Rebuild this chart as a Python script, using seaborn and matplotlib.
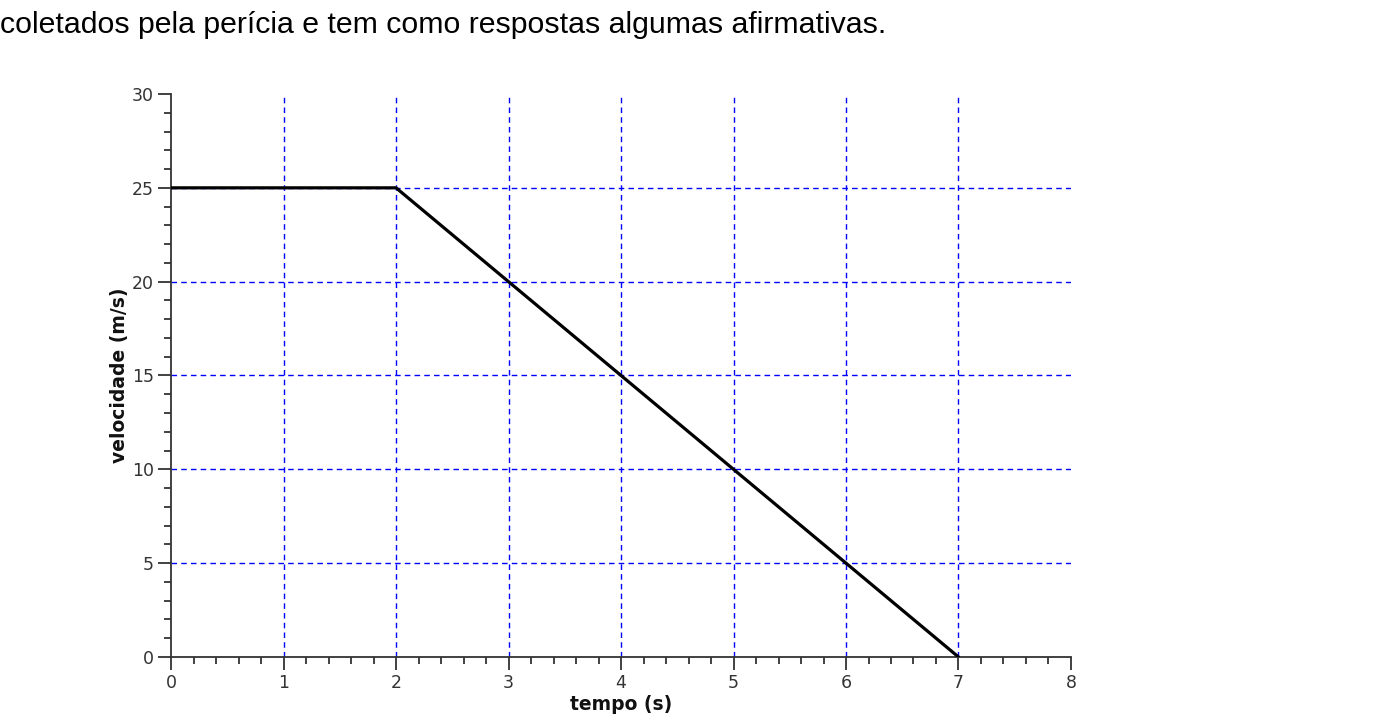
import matplotlib
matplotlib.use("Agg")
import matplotlib.pyplot as plt
import seaborn as sns
import pandas as pd
from matplotlib.ticker import MultipleLocator

# values
tempo = [0, 2, 7]
velocidade = [25, 25, 0]

grade_x = [1, 2, 3, 4, 5, 6, 7]
grade_y = [5, 10, 15, 20, 25]

texto_topo = "coletados pela perícia e tem como respostas algumas afirmativas."

df = pd.DataFrame({"tempo": tempo, "velocidade": velocidade})

sns.set_style("white")
plt.rcParams['font.family'] = ['DejaVu Sans']

fig = plt.figure(figsize=(13.75, 7.17), dpi=100)
ax = fig.add_axes([0.1244, 0.0837, 0.6545, 0.7852])

# dashed blue grid, only where the picture has it
for gx in grade_x:
    ax.axvline(gx, color="#0000ff", linestyle=(0, (4, 3)), linewidth=1.0, zorder=1)
for gy in grade_y:
    ax.axhline(gy, color="#0000ff", linestyle=(0, (4, 3)), linewidth=1.0, zorder=1)

sns.lineplot(data=df, x="tempo", y="velocidade", color="black", linewidth=2.3, ax=ax, zorder=3)

ax.set_xlim(0, 8)
ax.set_ylim(0, 30)
ax.xaxis.set_major_locator(MultipleLocator(1))
ax.xaxis.set_minor_locator(MultipleLocator(0.2))
ax.yaxis.set_major_locator(MultipleLocator(5))
ax.yaxis.set_minor_locator(MultipleLocator(1))

for s in ["top", "right"]:
    ax.spines[s].set_visible(False)
for s in ["left", "bottom"]:
    ax.spines[s].set_color("#333333")
    ax.spines[s].set_linewidth(1.3)

ax.tick_params(which="both", bottom=True, left=True, direction="out", width=1.3, color="#333333")
ax.tick_params(which="major", length=9.5, labelsize=12.5, labelcolor="#333333", pad=3)
ax.tick_params(which="minor", length=5)
ax.tick_params(axis="y", which="major", pad=3)

ax.set_xlabel("tempo (s)", fontsize=13.5, fontweight="bold", labelpad=2, color="#111111")
ax.set_ylabel("velocidade (m/s)", fontsize=13.5, fontweight="bold", labelpad=2, color="#111111")

fig.text(0.0, 1 - 33 / 717, texto_topo, fontsize=21.8, family="Liberation Sans",
         color="black", ha="left", va="baseline")

fig.savefig("out.png", dpi=100)
